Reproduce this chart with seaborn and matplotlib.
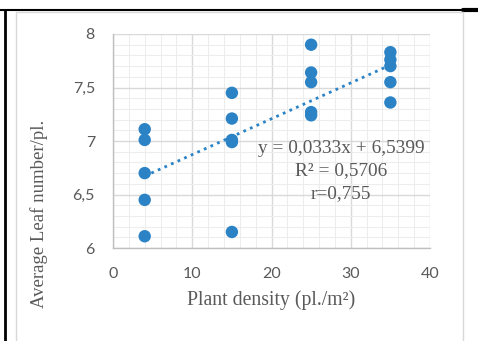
import numpy as np
import pandas as pd
import seaborn as sns
import matplotlib.pyplot as plt
from matplotlib.lines import Line2D
from matplotlib.ticker import MultipleLocator, FuncFormatter

density = [4, 4, 4, 4, 4,
           15, 15, 15, 15, 15,
           25, 25, 25, 25, 25,
           35, 35, 35, 35, 35]
leaf_number = [7.11, 7.01, 6.70, 6.45, 6.11,
               7.45, 7.21, 7.01, 6.99, 6.15,
               7.90, 7.64, 7.55, 7.27, 7.24,
               7.83, 7.76, 7.70, 7.55, 7.36]
equation_lines = ["y = 0,0333x + 6,5399", "R\u00b2 = 0,5706", "r=0,755"]

df = pd.DataFrame({'density': density, 'leaf': leaf_number})

sns.set_style('white')
blue = '#2b83c6'
grey = '#595959'

fig = plt.figure(figsize=(4.78, 3.41), dpi=100)
ax = fig.add_axes([0.2364, 0.2727, 0.6632, 0.6276])

sns.scatterplot(data=df, x='density', y='leaf', color=blue, s=80,
                edgecolor='none', ax=ax, zorder=3)
sns.regplot(data=df, x='density', y='leaf', scatter=False, ci=None, ax=ax,
            line_kws={'color': blue, 'linestyle': (0, (1, 1.6)), 'linewidth': 2.0})

ax.set_xlim(0, 40)
ax.set_ylim(6, 8)
ax.xaxis.set_major_locator(MultipleLocator(10))
ax.xaxis.set_minor_locator(MultipleLocator(2))
ax.yaxis.set_major_locator(MultipleLocator(0.5))
ax.yaxis.set_minor_locator(MultipleLocator(0.1))
ax.yaxis.set_major_formatter(FuncFormatter(lambda v, p: f"{v:g}".replace('.', ',')))
ax.grid(which='major', color='#d9d9d9', linewidth=1.0)
ax.grid(which='minor', color='#ededed', linewidth=0.8)
ax.set_axisbelow(True)

for s in ['top', 'right']:
    ax.spines[s].set_visible(False)
for s in ['left', 'bottom']:
    ax.spines[s].set_color('#bfbfbf')
    ax.spines[s].set_linewidth(1.0)

ax.tick_params(axis='both', which='major', length=5, color='#bfbfbf',
               labelsize=11.5, labelcolor=grey, direction='out')
ax.tick_params(axis='both', which='minor', length=0)
ax.tick_params(axis='x', pad=9)
ax.tick_params(axis='y', pad=8)
for lab in ax.get_xticklabels() + ax.get_yticklabels():
    lab.set_fontfamily('Lato')

ax.set_xlabel('Plant density (pl./m\u00b2)', family='Liberation Serif', fontsize=14.2,
              color=grey, labelpad=6)
ax.set_ylabel('Average Leaf number/pl.', family='Liberation Serif', fontsize=13.5,
              color=grey)
ax.yaxis.set_label_coords(-0.205, 0.159)

for i, line in enumerate(equation_lines):
    ax.text(28.8, 6.93 - i * 0.21, line, ha='center', va='center',
            family='Liberation Serif', fontsize=13.9, color=grey, zorder=4)

# page/table frame lines
fig.add_artist(Line2D([0, 1], [1 - 9.5 / 341] * 2, color='black', lw=1.5))
fig.add_artist(Line2D([0.969, 1], [1 - 10 / 341] * 2, color='black', lw=3))
fig.add_artist(Line2D([4.5 / 478] * 2, [0, 1 - 9.5 / 341], color='black', lw=2))
fig.add_artist(Line2D([15.5 / 478, 462.5 / 478], [1 - 11.5 / 341] * 2, color='#d9d9d9', lw=1))
fig.add_artist(Line2D([15.5 / 478] * 2, [0, 1 - 11.5 / 341], color='#d9d9d9', lw=1))
fig.add_artist(Line2D([462.5 / 478] * 2, [0, 1 - 11.5 / 341], color='#d9d9d9', lw=1))

fig.savefig('out.png', dpi=100)
